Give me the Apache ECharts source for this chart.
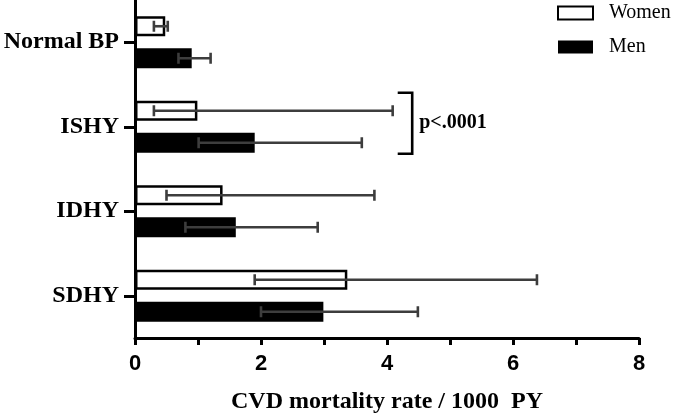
<!DOCTYPE html>
<html>
<head>
<meta charset="utf-8">
<script src="https://cdn.jsdelivr.net/npm/echarts@6/dist/echarts.min.js"></script>
<style>
html,body{margin:0;padding:0;background:#fff;}
#chart{width:685px;height:419px;}
</style>
</head>
<body>
<div id="chart"></div>
<script>
const categories = ['Normal BP', 'ISHY', 'IDHY', 'SDHY'];
const women = [0.48, 0.99, 1.39, 3.37];
const womenLow = [0.3, 0.3, 0.5, 1.9];
const womenHigh = [0.52, 4.09, 3.8, 6.38];
const men = [0.9, 1.9, 1.6, 2.99];
const menLow = [0.69, 1.01, 0.8, 2.0];
const menHigh = [1.2, 3.6, 2.9, 4.49];
const xTicks = [0, 2, 4, 6, 8];
const bracketCategory = 'ISHY';
const bracketArmX = 4.17;
const bracketX = 4.4;
const bracketLabel = 'p<.0001';

const BAR_W = 20, BAR_GAP_PX = 12;
const HALF = (BAR_W + BAR_GAP_PX) / 2;
const serif = '"Liberation Serif", "Times New Roman", serif';
const sans = '"Liberation Sans", Arial, sans-serif';

const errData = [];
categories.forEach((c, i) => {
  errData.push([i, womenLow[i], womenHigh[i], -1]);
  errData.push([i, menLow[i], menHigh[i], 1]);
});

const chart = echarts.init(document.getElementById('chart'), null, {renderer: 'canvas'});
chart.setOption({
  backgroundColor: '#fff',
  animation: false,
  grid: {left: 135, right: 46, top: -2, bottom: 79, containLabel: false},
  legend: {
    orient: 'vertical', left: 552, top: -2, itemWidth: 35, itemHeight: 13, itemGap: 14,
    icon: 'rect',
    textStyle: {fontFamily: serif, fontSize: 20, color: '#000', padding: [0, 0, 0, 11]},
    data: ['Women', 'Men']
  },
  xAxis: {
    type: 'value', min: 0, max: 8, interval: 1,
    name: 'CVD mortality rate / 1000  PY', nameLocation: 'middle', nameGap: 52,
    nameTextStyle: {fontFamily: serif, fontWeight: 'bold', fontSize: 24, color: '#000'},
    axisLine: {show: true, lineStyle: {color: '#000', width: 3}},
    axisTick: {show: true, length: 7, lineStyle: {color: '#000', width: 3}},
    axisLabel: {
      margin: 15, fontFamily: sans, fontWeight: 'bold', fontSize: 22, color: '#000',
      formatter: v => xTicks.indexOf(v) >= 0 ? String(v) : ''
    },
    splitLine: {show: false}
  },
  yAxis: {
    type: 'category', data: categories, inverse: true,
    axisLine: {show: true, lineStyle: {color: '#000', width: 3}},
    axisTick: {show: true, alignWithLabel: true, length: 11, lineStyle: {color: '#000', width: 3}},
    axisLabel: {margin: 16, fontFamily: serif, fontWeight: 'bold', fontSize: 24, color: '#000'}
  },
  series: [
    {
      name: 'Women', type: 'bar', data: women, barWidth: BAR_W, barGap: (BAR_GAP_PX / BAR_W * 100) + '%',
      itemStyle: {color: '#fff', borderColor: '#000', borderWidth: 2.5}
    },
    {
      name: 'Men', type: 'bar', data: men, barWidth: BAR_W,
      itemStyle: {color: '#000', borderColor: '#000', borderWidth: 0}
    },
    {
      type: 'custom', name: 'err', z: 10, data: errData,
      encode: {x: [1, 2], y: 0},
      renderItem: function (params, api) {
        const cat = api.value(0), lo = api.value(1), hi = api.value(2), side = api.value(3);
        const a = api.coord([lo, cat]);
        const b = api.coord([hi, cat]);
        const y = a[1] + side * HALF;
        const st = {stroke: '#3d3d3d', lineWidth: 2.6};
        return {
          type: 'group', children: [
            {type: 'line', shape: {x1: a[0], y1: y, x2: b[0], y2: y}, style: st},
            {type: 'line', shape: {x1: a[0], y1: y - 5.5, x2: a[0], y2: y + 5.5}, style: st},
            {type: 'line', shape: {x1: b[0], y1: y - 5.5, x2: b[0], y2: y + 5.5}, style: st}
          ]
        };
      }
    },
    {
      type: 'custom', name: 'bracket', z: 10,
      data: [[categories.indexOf(bracketCategory), bracketArmX, bracketX]],
      encode: {x: [1, 2], y: 0},
      renderItem: function (params, api) {
        const cat = api.value(0);
        const a = api.coord([api.value(1), cat]);
        const b = api.coord([api.value(2), cat]);
        const y0 = a[1] - 34, y1 = a[1] + 27;
        return {
          type: 'group', children: [
            {type: 'polyline', shape: {points: [[a[0], y0], [b[0], y0], [b[0], y1], [a[0], y1]]},
             style: {stroke: '#000', lineWidth: 2.6, fill: null}},
            {type: 'text', x: b[0] + 7, y: (y0 + y1) / 2,
             style: {text: bracketLabel, font: 'bold 20px ' + serif, fill: '#000', verticalAlign: 'middle', align: 'left'}}
          ]
        };
      }
    }
  ]
});
</script>
</body>
</html>
